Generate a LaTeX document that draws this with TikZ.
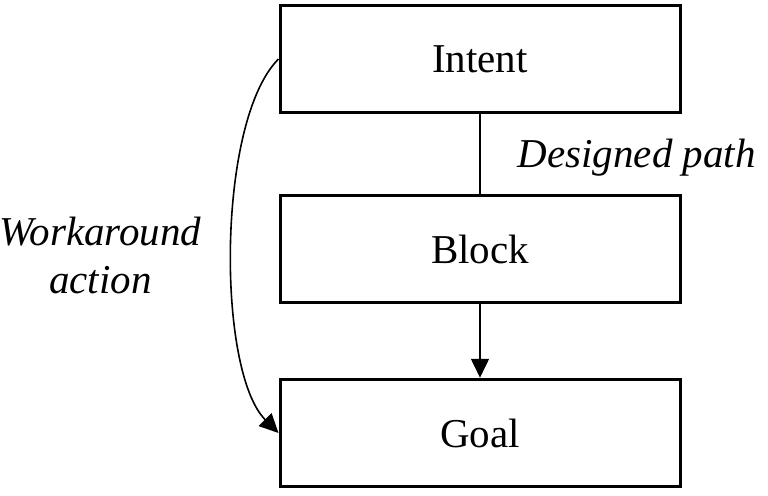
\documentclass[tikz,border=0pt]{standalone}
\usepackage{fontspec}
\setmainfont{Liberation Serif}
\usetikzlibrary{arrows.meta}
\begin{document}
\begin{tikzpicture}[>={Triangle[length=9.5pt, width=9pt]}, x=0.5pt, y=0.5pt,
	box/.style={draw, line width=1.5pt, minimum width=200pt, minimum height=53.75pt, inner sep=0pt, font=\fontsize{20.5}{24}\selectfont},
	lbl/.style={inner sep=0pt, align=center, font=\fontsize{20.5}{24}\selectfont\itshape},
	link/.style={line width=0.8pt}]
	\useasboundingbox (0,0) rectangle (768,495);
	\node[box] (intent) at (480,436) {Intent};
	\node[box] (block) at (480,246) {Block};
	\node[box] (goal) at (480,62) {Goal};
	\draw[link] (intent) -- (block) node[lbl, midway, right=18.5pt, yshift=-1.75pt] {Designed path};
	\draw[link, ->] (block) -- (goal);
	\draw[link, ->] (intent.west) to[out=225, in=135, looseness=0.6] node[lbl, midway, left=15pt, yshift=-4.5pt] {Workaround\\action} (goal.west);
\end{tikzpicture}
\end{document}
